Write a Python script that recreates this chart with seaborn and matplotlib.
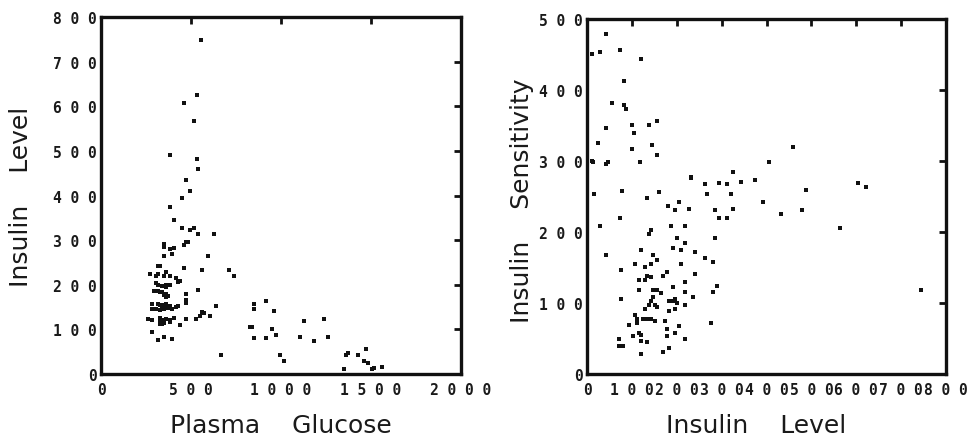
import matplotlib
matplotlib.use('Agg')
import matplotlib.pyplot as plt
import seaborn as sns
import pandas as pd
from matplotlib.ticker import FuncFormatter

# left panel: plasma glucose vs insulin level
glucose = [555, 531, 463, 518, 383, 531, 541, 474, 496, 452,
           383, 407, 452, 496, 518, 541, 629, 463, 474, 485,
           350, 350, 383, 407, 394, 350, 596, 317, 328, 463,
           563, 709, 741, 272, 306, 317, 361, 383, 350, 417,
           428, 439, 306, 317, 361, 372, 383, 339, 361, 294,
           317, 328, 339, 474, 541, 361, 350, 372, 361, 283,
           317, 474, 474, 361, 641, 328, 350, 383, 428, 417,
           361, 372, 339, 283, 306, 328, 350, 394, 563, 574,
           607, 552, 261, 283, 328, 339, 361, 383, 406, 474,
           529, 328, 350, 383, 439, 328, 339, 283, 350, 394,
           317, 665, 850, 850, 917, 963, 828, 839, 950, 974,
           850, 917, 996, 1018, 1129, 1240, 1105, 1185, 1263, 1361,
           1372, 1428, 1472, 1461, 1483, 1350, 1506, 1517, 1561]
insulin_a = [749, 625, 607, 567, 491, 482, 460, 434, 410, 395,
             375, 345, 327, 322, 327, 313, 313, 288, 296, 296,
             291, 285, 279, 282, 270, 264, 264, 241, 241, 237,
             234, 234, 220, 224, 220, 224, 229, 220, 220, 215,
             206, 208, 204, 200, 200, 200, 200, 197, 196, 185,
             185, 184, 183, 180, 189, 180, 176, 174, 172, 157,
             157, 166, 160, 157, 153, 154, 154, 152, 153, 150,
             149, 148, 148, 146, 145, 144, 145, 146, 139, 136,
             131, 131, 124, 120, 126, 120, 124, 120, 126, 124,
             124, 117, 115, 117, 109, 113, 113, 95, 82, 79,
             76, 43, 157, 145, 163, 141, 106, 106, 100, 87,
             80, 80, 43, 29, 118, 124, 82, 73, 82, 43,
             47, 43, 56, 29, 25, 11, 11, 13, 16]

# right panel: insulin level vs insulin sensitivity
insulin_b = [42, 11, 29, 73, 121, 82, 55, 82, 86, 42,
             100, 139, 157, 104, 24, 144, 100, 157, 458, 11,
             13, 42, 46, 117, 405, 232, 232, 326, 264, 295,
             312, 344, 375, 268, 321, 489, 604, 621, 15, 77,
             133, 161, 180, 206, 197, 228, 286, 295, 312, 326,
             393, 432, 480, 563, 73, 28, 143, 139, 188, 219,
             201, 286, 192, 210, 219, 241, 121, 42, 148, 157,
             143, 108, 130, 210, 263, 281, 76, 179, 170, 241,
             134, 143, 116, 219, 130, 148, 157, 116, 165, 192,
             219, 281, 290, 76, 146, 143, 183, 192, 197, 201,
             237, 219, 139, 152, 157, 130, 183, 197, 108, 112,
             125, 134, 143, 152, 112, 174, 94, 277, 206, 179,
             116, 121, 103, 197, 179, 121, 134, 219, 72, 72,
             81, 183, 170, 121, 745]
sensitivity = [479, 451, 454, 456, 443, 413, 382, 379, 373, 346,
               351, 351, 356, 340, 325, 323, 317, 309, 320, 300,
               298, 296, 298, 298, 298, 278, 276, 284, 267, 269,
               267, 270, 273, 253, 253, 259, 269, 264, 253, 258,
               248, 256, 236, 242, 231, 233, 231, 220, 220, 233,
               242, 225, 231, 206, 220, 208, 203, 197, 208, 208,
               192, 192, 178, 175, 184, 172, 175, 167, 167, 161,
               155, 155, 151, 155, 164, 158, 147, 144, 138, 141,
               138, 136, 133, 130, 133, 119, 119, 119, 114, 122,
               116, 116, 124, 106, 108, 103, 103, 103, 106, 100,
               108, 97, 97, 97, 94, 92, 89, 92, 83, 78,
               78, 78, 78, 75, 72, 75, 69, 72, 67, 64,
               58, 55, 53, 58, 53, 47, 45, 50, 50, 39,
               39, 36, 31, 28, 119]

left_ticks_x = [0, 500, 1000, 1500, 2000]
left_ticks_y = [0, 100, 200, 300, 400, 500, 600, 700, 800]
right_ticks_x = [0, 100, 200, 300, 400, 500, 600, 700, 800]
right_ticks_y = [0, 100, 200, 300, 400, 500]

df_a = pd.DataFrame({'glucose': glucose, 'insulin': insulin_a})
df_b = pd.DataFrame({'insulin': insulin_b, 'sensitivity': sensitivity})

sns.set_style('white')
plt.rcParams['font.family'] = ['DejaVu Sans']

fig = plt.figure(figsize=(9.73, 4.39), dpi=100)
ax1 = fig.add_axes([101 / 973, 1 - 375 / 439, 360 / 973, 357 / 439])
ax2 = fig.add_axes([587 / 973, 1 - 375 / 439, 359 / 973, 355 / 439])

sns.scatterplot(data=df_a, x='glucose', y='insulin', ax=ax1, marker='s',
                color='#111111', s=12, linewidth=0)
sns.scatterplot(data=df_b, x='insulin', y='sensitivity', ax=ax2, marker='s',
                color='#111111', s=12, linewidth=0)

spaced = FuncFormatter(lambda v, p: ' '.join(str(int(round(v)))))
label_font = dict(family='DejaVu Sans', size=18, color='#1a1a1a')


def style(ax, xt, yt, xlab, ylab, xl_pos, yl_pos):
    ax.set_xlim(xt[0], xt[-1])
    ax.set_ylim(yt[0], yt[-1])
    ax.set_xticks(xt)
    ax.set_yticks(yt)
    ax.xaxis.set_major_formatter(spaced)
    ax.yaxis.set_major_formatter(spaced)
    for lab in ax.get_xticklabels() + ax.get_yticklabels():
        lab.set_fontfamily('DejaVu Sans Mono')
        lab.set_fontweight('bold')
        lab.set_fontsize(10.5)
        lab.set_color('#1a1a1a')
    ax.tick_params(direction='in', length=5, width=2, top=True, right=True,
                   color='#111111')
    ax.tick_params(axis='x', pad=6)
    ax.tick_params(axis='y', pad=3)
    for sp in ax.spines.values():
        sp.set_visible(True)
        sp.set_linewidth(2.4)
        sp.set_color('#111111')
    ax.set_xlabel(xlab, **label_font)
    ax.set_ylabel(ylab, **label_font)
    ax.xaxis.set_label_coords(*xl_pos)
    ax.yaxis.set_label_coords(*yl_pos)
    ax.yaxis.label.set_va('center')
    ax.xaxis.label.set_va('baseline')


style(ax1, left_ticks_x, left_ticks_y, 'Plasma    Glucose', 'Insulin    Level',
      (0.5, -0.162), (-0.222, 0.5))
style(ax2, right_ticks_x, right_ticks_y, 'Insulin    Level', 'Insulin    Sensitivity',
      (0.47, -0.163), (-0.181, 0.49))

fig.savefig('out.png', dpi=100)
plt.close(fig)
